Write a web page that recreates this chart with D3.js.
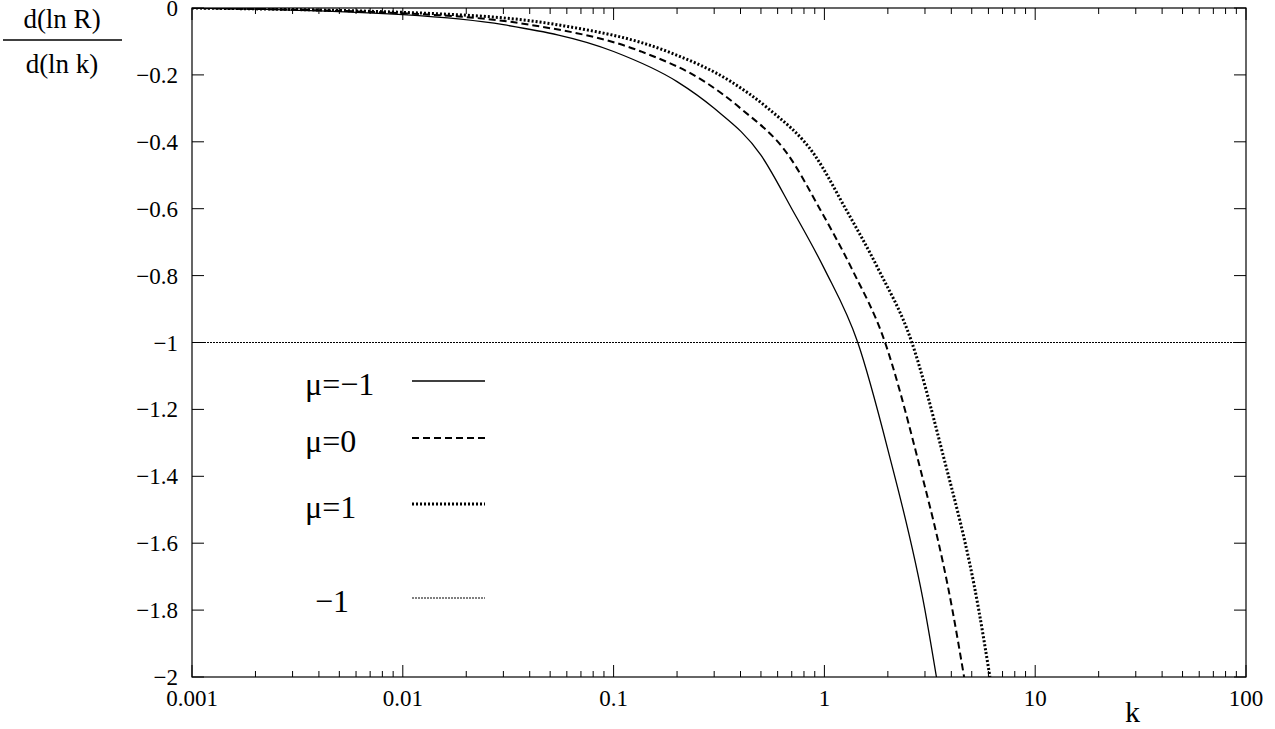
<!DOCTYPE html><html><head><meta charset="utf-8"><script src="https://d3js.org/d3.v7.min.js"></script>
<style>body{margin:0;background:#fff}text{font-family:"Liberation Serif","Times New Roman",Times,"DejaVu Serif",serif;fill:#000}</style></head><body>
<svg id="c" width="1275" height="729"></svg>
<script>
const kSolid=[0.001,0.01,0.03,0.1,0.2,0.3,0.5,0.7,1,1.44,2,3,3.4];
const ySolid=[0,-0.02,-0.05,-0.13,-0.22,-0.30,-0.44,-0.60,-0.78,-1,-1.32,-1.80,-2];
const kDash=[0.001,0.0135,0.04,0.135,0.27,0.4,0.675,0.95,1.35,1.94,2.7,4.05,4.6];
const yDash=[0,-0.02,-0.05,-0.13,-0.22,-0.30,-0.44,-0.60,-0.78,-1,-1.32,-1.80,-2];
const kDot=[0.001,0.018,0.054,0.18,0.36,0.54,0.9,1.26,1.8,2.6,3.6,5.4,6.1];
const yDot=[0,-0.02,-0.05,-0.13,-0.22,-0.30,-0.44,-0.60,-0.78,-1,-1.32,-1.80,-2];
const xTicks=[0.001,0.01,0.1,1,10,100];
const xTickLabels=["0.001","0.01","0.1","1","10","100"];
const yTicks=[0,-0.2,-0.4,-0.6,-0.8,-1,-1.2,-1.4,-1.6,-1.8,-2];
const legend=[{t:"μ=−1",d:null,w:1.3},{t:"μ=0",d:"7,4",w:2},{t:"μ=1",d:"2,2",w:3},{t:"−1",d:"2,1",w:1}];
const L=192,R=1246,T=8,B=677;
const svg=d3.select("#c");
const x=d3.scaleLog().domain([0.001,100]).range([L,R]);
const y=d3.scaleLinear().domain([-2,0]).range([B,T]);
svg.append("rect").attr("x",L).attr("y",T).attr("width",R-L).attr("height",B-T).attr("fill","none").attr("stroke","#000").attr("stroke-width",1.2);
const minor=[];for(let e=-3;e<2;e++)for(let m=2;m<10;m++)minor.push(m*Math.pow(10,e));
const g=svg.append("g").attr("stroke","#000").attr("stroke-width",1);
xTicks.forEach(v=>{g.append("line").attr("x1",x(v)).attr("x2",x(v)).attr("y1",B).attr("y2",B-12);g.append("line").attr("x1",x(v)).attr("x2",x(v)).attr("y1",T).attr("y2",T+12);});
minor.forEach(v=>{g.append("line").attr("x1",x(v)).attr("x2",x(v)).attr("y1",B).attr("y2",B-6);g.append("line").attr("x1",x(v)).attr("x2",x(v)).attr("y1",T).attr("y2",T+6);});
yTicks.forEach(v=>{g.append("line").attr("x1",L).attr("x2",L+12).attr("y1",y(v)).attr("y2",y(v));g.append("line").attr("x1",R).attr("x2",R-12).attr("y1",y(v)).attr("y2",y(v));});
xTicks.forEach((v,i)=>svg.append("text").attr("x",x(v)).attr("y",706).attr("text-anchor","middle").attr("font-size",23).text(xTickLabels[i]));
yTicks.forEach(v=>svg.append("text").attr("x",L-14).attr("y",y(v)+8).attr("text-anchor","end").attr("font-size",23).text(v===0?"0":d3.format("")(v).replace("-","−")));
svg.append("text").attr("x",1125).attr("y",722).attr("font-size",30).text("k");
svg.append("text").attr("x",62).attr("y",28).attr("text-anchor","middle").attr("font-size",27).text("d(ln R)");
svg.append("line").attr("x1",3).attr("x2",122).attr("y1",40).attr("y2",40).attr("stroke","#000").attr("stroke-width",1.5);
svg.append("text").attr("x",62).attr("y",73).attr("text-anchor","middle").attr("font-size",27).text("d(ln k)");
svg.append("line").attr("x1",L).attr("x2",R).attr("y1",y(-1)).attr("y2",y(-1)).attr("stroke","#000").attr("stroke-width",1).attr("stroke-dasharray","2,1");
const line=d3.line().x(d=>x(d[0])).y(d=>y(d[1])).curve(d3.curveMonotoneX);
svg.append("clipPath").attr("id","cl").append("rect").attr("x",L).attr("y",T).attr("width",R-L).attr("height",B-T);
[[kSolid,ySolid,0],[kDash,yDash,1],[kDot,yDot,2]].forEach(([ks,ys,i])=>{
 svg.append("path").attr("clip-path","url(#cl)").attr("d",line(ks.map((k,j)=>[k,ys[j]]))).attr("fill","none").attr("stroke","#000").attr("stroke-width",legend[i].w).attr("stroke-dasharray",legend[i].d);
});
const ly=[381,438,504,598],tx=[305,305,305,315];
legend.forEach((l,i)=>{
 svg.append("text").attr("x",tx[i]).attr("y",ly[i]+14).attr("font-size",32).text(l.t);
 svg.append("line").attr("x1",412).attr("x2",485).attr("y1",ly[i]).attr("y2",ly[i]).attr("stroke","#000").attr("stroke-width",l.w).attr("stroke-dasharray",l.d);
});
</script></body></html>
